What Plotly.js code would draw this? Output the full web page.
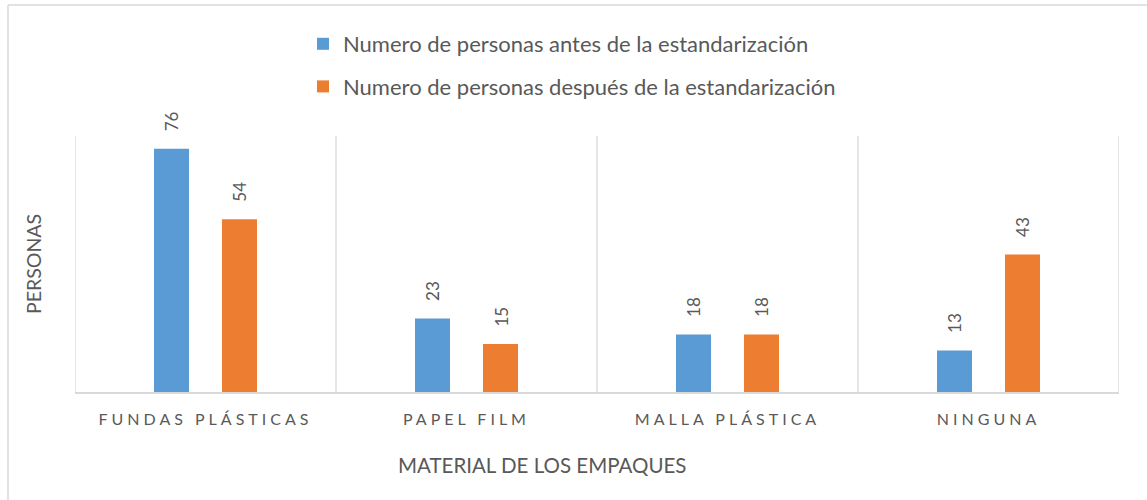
<!DOCTYPE html>
<html>
<head>
<meta charset="utf-8">
<script src="https://cdn.plot.ly/plotly-3.0.1.min.js"></script>
<style>
  html, body { margin: 0; padding: 0; background: #fff; overflow: hidden; width: 1147px; height: 500px; }
  #chart { width: 1147px; height: 500px; }
  .xaxislayer-above .xtick text { letter-spacing: 4px; }
</style>
</head>
<body>
<div id="chart"></div>
<script>
const categories = ["FUNDAS PLÁSTICAS", "PAPEL FILM", "MALLA PLÁSTICA", "NINGUNA"];
const seriesNames = ["Numero de personas antes de la estandarización", "Numero de personas después de la estandarización"];
const antes = [76, 23, 18, 13];
const despues = [54, 15, 18, 43];
const yTitle = "PERSONAS";
const xTitle = "MATERIAL DE LOS EMPAQUES";

const FONT = "Lato, 'Open Sans', sans-serif";
const TXT = "#595959";
const LINE = "#d9d9d9";
const colors = ["#5b9bd5", "#ed7d31"];

const W = 1147, H = 500;
const margin = {l: 75, r: 28, t: 136, b: 108, autoexpand: false};
const PW = W - margin.l - margin.r, PH = H - margin.t - margin.b;
const px = v => (v - margin.l) / PW;          // pixel x -> paper x
const py = v => (H - margin.b - v) / PH;      // pixel y -> paper y

const traces = [antes, despues].map((vals, i) => ({
  type: "bar",
  name: seriesNames[i],
  x: categories,
  y: vals,
  marker: {color: colors[i]},
  legendgroup: "g" + i,
  hoverinfo: "x+y+name"
}));

const annotations = [];
[antes, despues].forEach((vals, i) => {
  vals.forEach((v, j) => {
    annotations.push({
      x: categories[j], y: v, xref: "x", yref: "y",
      text: String(v), showarrow: false, textangle: -90,
      xshift: i === 0 ? -34 : 34, yshift: 27,
      font: {family: FONT, size: 17, color: TXT}
    });
  });
});
annotations.push({
  xref: "paper", yref: "paper", x: px(542), y: py(465),
  xanchor: "center", yanchor: "middle", showarrow: false,
  text: xTitle, font: {family: FONT, size: 20.5, color: TXT}
});
annotations.push({
  xref: "paper", yref: "paper", x: px(33), y: py(264),
  xanchor: "center", yanchor: "middle", showarrow: false, textangle: -90,
  text: yTitle, font: {family: FONT, size: 19.5, color: TXT}
});

const shapes = [];
for (let k = 0; k <= categories.length; k++) {
  shapes.push({type: "line", xref: "x", yref: "paper", x0: k - 0.5, x1: k - 0.5, y0: 0, y1: 1,
    line: {color: LINE, width: 1.3}, layer: "below"});
}
// chart-area border (top and left edges visible in the reference)
shapes.push({type: "line", xref: "paper", yref: "paper", x0: px(8), x1: px(1147), y0: py(5), y1: py(5),
  line: {color: LINE, width: 1.5}});
shapes.push({type: "line", xref: "paper", yref: "paper", x0: px(8), x1: px(8), y0: py(5), y1: py(500),
  line: {color: LINE, width: 1.5}});

const layout = {
  width: W, height: H,
  margin: margin,
  paper_bgcolor: "#fff", plot_bgcolor: "#fff",
  font: {family: FONT, color: TXT},
  barmode: "group",
  bargap: 0.479,
  bargroupgap: 0.485,
  showlegend: true,
  legend: {
    orientation: "v", xref: "container", yref: "container",
    x: 303 / W, y: 1 - 23 / H, xanchor: "left", yanchor: "top",
    font: {family: FONT, size: 22, color: TXT},
    tracegroupgap: 11, traceorder: "grouped",
    bgcolor: "rgba(0,0,0,0)"
  },
  xaxis: {
    type: "category", range: [-0.5, 3.5],
    showline: true, linecolor: LINE, linewidth: 2,
    showgrid: false, ticks: "", zeroline: false,
    tickfont: {family: FONT, size: 16, color: TXT}, tickangle: 0,
    ticklabelstandoff: 12,
    automargin: false
  },
  yaxis: {
    range: [0, 80], showticklabels: false, showgrid: false, zeroline: false, showline: false, ticks: "",
    automargin: false
  },
  shapes: shapes,
  annotations: annotations
};

Plotly.newPlot("chart", traces, layout, {displayModeBar: false, staticPlot: true});
</script>
</body>
</html>
